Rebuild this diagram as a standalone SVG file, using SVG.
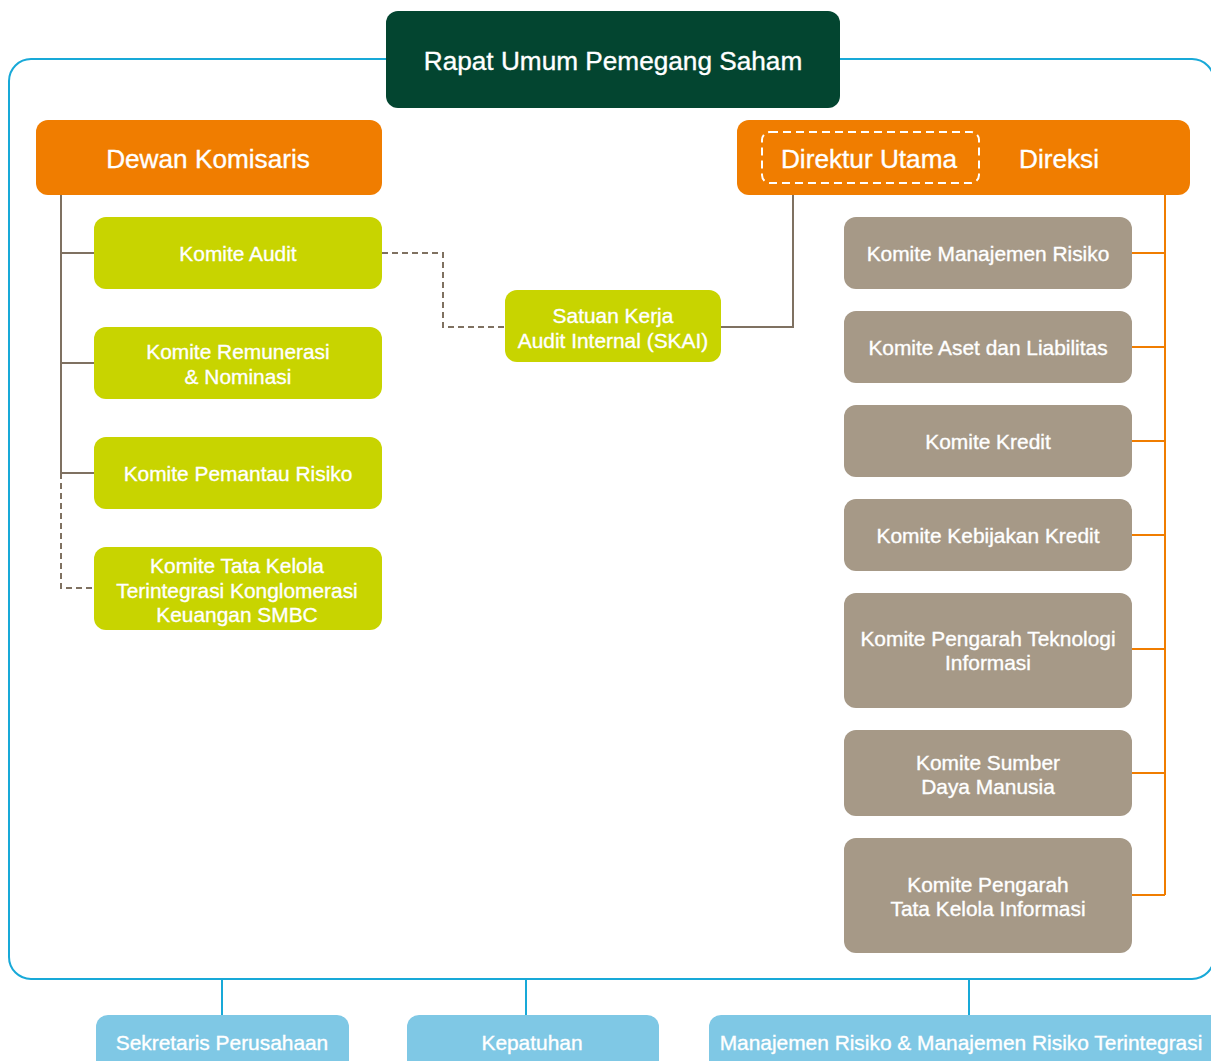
<svg xmlns="http://www.w3.org/2000/svg" width="1211" height="1061" viewBox="0 0 1211 1061">
<style>
text{font-family:"Liberation Sans",Arial,sans-serif;fill:#fff;stroke:#fff;stroke-width:0.35;text-anchor:middle;dominant-baseline:central}
.t24{font-size:26.2px}
.t19{font-size:20.9px}
.lime{fill:#c8d400}
.taupe{fill:#a69987}
.org{fill:#f07d00}
.blue{fill:#7fc8e5}
.br{stroke:#7f7161;stroke-width:2;fill:none}
.brd{stroke:#7f7161;stroke-width:2;fill:none;stroke-dasharray:6 4}
.ol{stroke:#f07d00;stroke-width:2;fill:none}
.bl{stroke:#18a9d8;stroke-width:2;fill:none}
</style>
<rect x="0" y="0" width="1211" height="1061" fill="#fff"/>
<g id="connectors">
<rect class="bl" x="9" y="59" width="1205" height="920" rx="22"/>
<path class="br" d="M61 195V473M61 253H94M61 363H94M61 473H94"/>
<path class="brd" d="M61 473V588H94"/>
<path class="brd" d="M382 253H443V327H505"/>
<path class="br" d="M793 183V327H721"/>
<path class="ol" d="M1165 195V895M1132 253H1165M1132 347H1165M1132 441H1165M1132 535H1165M1132 649H1165M1132 773H1165M1132 895H1165"/>
<path class="bl" d="M222 979V1015M526 979V1015M969 979V1015"/>
</g>
<g id="rups"><rect x="386" y="11" width="454" height="97" rx="12" fill="#034530"/><text class="t24" x="613" y="61">Rapat Umum Pemegang Saham</text></g>
<g id="dewan"><rect class="org" x="36" y="120" width="346" height="75" rx="12"/><text class="t24" x="208" y="159">Dewan Komisaris</text></g>
<g id="direksi"><rect class="org" x="737" y="120" width="453" height="75" rx="12"/><rect x="762" y="132" width="217" height="51" rx="8" fill="none" stroke="#fff" stroke-width="2" stroke-dasharray="8 5"/><text class="t24" x="869" y="159">Direktur Utama</text><text class="t24" x="1059" y="159">Direksi</text></g>
<g id="audit"><rect class="lime" x="94" y="217" width="288" height="72" rx="12"/><text class="t19" x="238" y="253">Komite Audit</text></g>
<g id="remun"><rect class="lime" x="94" y="327" width="288" height="72" rx="12"/><text class="t19" x="238" y="351">Komite Remunerasi</text><text class="t19" x="238" y="376">&amp; Nominasi</text></g>
<g id="pemantau"><rect class="lime" x="94" y="437" width="288" height="72" rx="12"/><text class="t19" x="238" y="473">Komite Pemantau Risiko</text></g>
<g id="tatakelola"><rect class="lime" x="94" y="547" width="288" height="83" rx="12"/><text class="t19" x="237" y="565">Komite Tata Kelola</text><text class="t19" x="237" y="590">Terintegrasi Konglomerasi</text><text class="t19" x="237" y="614">Keuangan SMBC</text></g>
<g id="skai"><rect class="lime" x="505" y="290" width="216" height="72" rx="12"/><text class="t19" x="613" y="315">Satuan Kerja</text><text class="t19" x="613" y="340">Audit Internal (SKAI)</text></g>
<g id="kmr"><rect class="taupe" x="844" y="217" width="288" height="72" rx="12"/><text class="t19" x="988" y="253">Komite Manajemen Risiko</text></g>
<g id="alco"><rect class="taupe" x="844" y="311" width="288" height="72" rx="12"/><text class="t19" x="988" y="347">Komite Aset dan Liabilitas</text></g>
<g id="kredit"><rect class="taupe" x="844" y="405" width="288" height="72" rx="12"/><text class="t19" x="988" y="441">Komite Kredit</text></g>
<g id="kebijakan"><rect class="taupe" x="844" y="499" width="288" height="72" rx="12"/><text class="t19" x="988" y="535">Komite Kebijakan Kredit</text></g>
<g id="ti"><rect class="taupe" x="844" y="593" width="288" height="115" rx="12"/><text class="t19" x="988" y="638">Komite Pengarah Teknologi</text><text class="t19" x="988" y="662">Informasi</text></g>
<g id="sdm"><rect class="taupe" x="844" y="730" width="288" height="86" rx="12"/><text class="t19" x="988" y="762">Komite Sumber</text><text class="t19" x="988" y="786">Daya Manusia</text></g>
<g id="tki"><rect class="taupe" x="844" y="838" width="288" height="115" rx="12"/><text class="t19" x="988" y="884">Komite Pengarah</text><text class="t19" x="988" y="908">Tata Kelola Informasi</text></g>
<g id="sekper"><rect class="blue" x="96" y="1015" width="253" height="70" rx="12"/><text class="t19" x="222" y="1042">Sekretaris Perusahaan</text></g>
<g id="kepatuhan"><rect class="blue" x="407" y="1015" width="252" height="70" rx="12"/><text class="t19" x="532" y="1042">Kepatuhan</text></g>
<g id="mr"><rect class="blue" x="709" y="1015" width="520" height="70" rx="12"/><text class="t19" x="961" y="1042">Manajemen Risiko &amp; Manajemen Risiko Terintegrasi</text></g>
</svg>
